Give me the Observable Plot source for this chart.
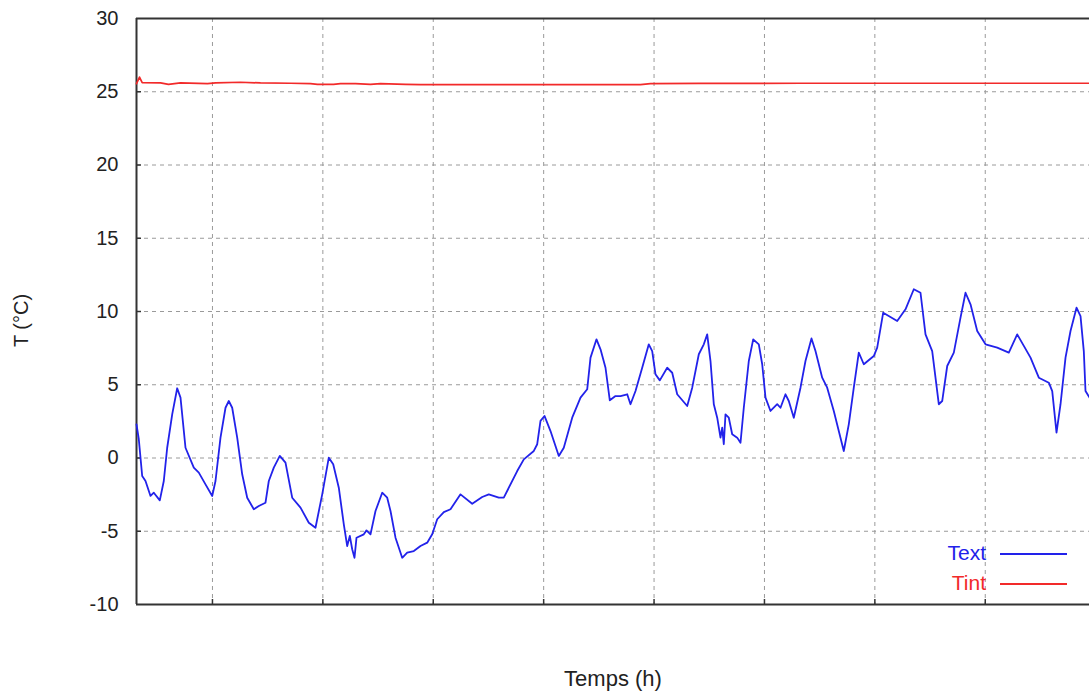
<!DOCTYPE html>
<html><head><meta charset="utf-8">
<script src="https://cdn.jsdelivr.net/npm/d3@7"></script>
<script src="https://cdn.jsdelivr.net/npm/@observablehq/plot@0.6"></script>
<style>
body{margin:0;background:#fff;}
#wrap{position:relative;width:1089px;height:693px;font-family:"Liberation Sans",Arial,sans-serif;}
#legend{position:absolute;right:22px;top:538px;display:grid;grid-template-columns:auto 67px;column-gap:14px;font-size:21px;}
#legend div{height:30px;line-height:30px;text-align:right;}
#legend .ln{height:0;margin-top:15px;border-top:2px solid;}
</style></head><body><div id="wrap"></div>
<script>
// Outside temperature (Text), hours from start of record
const textHours = [0,1.04,2.58,4.08,6.34,7.84,10.55,12.36,13.90,16.17,18.43,19.93,22.19,25.95,28.22,31.25,34.29,35.78,38.04,40.31,41.80,43.34,45.61,47.87,50.14,53.13,55.39,58.42,59.92,62.18,64.90,67.48,70.52,74.28,78.04,81.07,84.11,87.09,89.09,91.62,93.89,95.43,96.61,97.69,98.73,99.64,102.94,104.17,105.98,108.24,111.28,113.54,115.04,117.30,120.33,122.60,125.59,128.62,131.66,133.92,136.19,139.18,142.21,146.74,152.04,156.57,159.56,164.09,166.35,172.42,175.41,179.94,181.48,182.97,184.78,187.50,191.26,193.52,197.33,201.09,204.12,205.62,208.33,210.15,212.41,214.36,216.94,219.20,222.24,223.73,226.00,229.03,232.02,233.56,235.05,237.00,240.35,242.62,244.88,249.41,251.68,254.67,256.93,258.47,259.96,261.46,263.00,264.49,265.26,265.98,266.75,268.25,269.79,272.05,273.55,275.04,277.31,279.30,281.84,283.38,284.87,287.13,290.17,291.66,293.93,295.42,297.69,300.72,302.98,305.70,307.51,310.55,312.81,315.80,318.06,320.33,322.59,324.86,327.12,329.39,333.92,335.46,338.18,344.52,348.28,352.04,355.07,357.34,360.37,363.36,364.90,367.17,370.16,373.19,375.46,377.72,380.76,384.52,389.82,395.07,398.87,401.86,404.90,408.66,413.19,414.73,416.67,418.49,420.75,423.01,425.73,427.54,429.03,429.80,431.61];
const textTemps = [2.30,1.28,-1.23,-1.57,-2.59,-2.37,-2.89,-1.57,0.70,2.98,4.76,4.12,0.70,-0.66,-1.00,-1.80,-2.59,-1.57,1.39,3.43,3.89,3.43,1.39,-1.11,-2.71,-3.50,-3.28,-3.05,-1.57,-0.66,0.14,-0.32,-2.71,-3.39,-4.42,-4.76,-2.48,0.02,-0.43,-2.03,-4.53,-6.01,-5.32,-6.23,-6.81,-5.44,-5.21,-4.94,-5.21,-3.62,-2.37,-2.71,-3.62,-5.44,-6.81,-6.46,-6.35,-6.01,-5.78,-5.21,-4.18,-3.69,-3.50,-2.48,-3.12,-2.66,-2.48,-2.71,-2.71,-0.89,-0.09,0.48,0.94,2.53,2.87,1.84,0.14,0.70,2.75,4.12,4.69,6.85,8.10,7.42,6.16,3.94,4.23,4.23,4.35,3.67,4.57,6.16,7.76,7.30,5.71,5.30,6.16,5.82,4.35,3.55,4.80,7.08,7.76,8.44,6.62,3.67,2.75,1.39,2.07,0.94,2.98,2.75,1.62,1.39,1.04,3.43,6.62,8.10,7.76,6.40,4.12,3.21,3.67,3.43,4.35,3.89,2.75,4.80,6.62,8.16,7.30,5.48,4.80,3.21,1.84,0.48,2.30,4.80,7.19,6.40,6.96,7.53,9.92,9.35,10.15,11.52,11.28,8.44,7.30,3.67,3.89,6.28,7.19,9.58,11.28,10.49,8.67,7.76,7.53,7.19,8.44,7.65,6.85,5.48,5.14,4.57,1.73,3.67,6.85,8.67,10.26,9.69,7.30,4.57,4.12];
// Inside temperature (Tint)
const tintHours = [0,1.36,2.58,10.87,14.49,19.93,32.16,35.78,47.10,56.16,69.75,78.80,81.97,89.22,92.39,99.18,105.98,110.51,121.83,128.62,164.86,210.15,228.26,232.79,255.44,282.61,300.72,346.02,391.31,431.61];
const tintTemps = [25.55,26.0,25.62,25.6,25.5,25.6,25.55,25.6,25.65,25.6,25.58,25.55,25.5,25.5,25.55,25.55,25.5,25.55,25.5,25.48,25.48,25.48,25.48,25.55,25.57,25.57,25.58,25.58,25.58,25.58];

const yTicks = [-10,-5,0,5,10,15,20,25,30];
const hourTicks = [34.4,84.4,134.4,184.4,234.4,284.4,334.4,384.4];
const hourDomain = [0, 431.61];
const seriesNames = ["Text","Tint"];
const seriesColors = ["#2222ea","#f22a2a"];

const textData = textHours.map((h,i)=>({h, t:textTemps[i]}));
const tintData = tintHours.map((h,i)=>({h, t:tintTemps[i]}));
const innerY = yTicks.slice(1,-1);

const chart = Plot.plot({
  width: 1089, height: 693,
  marginLeft: 136, marginTop: 18, marginBottom: 89, marginRight: 0,
  style: {fontFamily: "'Liberation Sans', Arial, sans-serif", fontSize: "20px", color: "#222", background: "#fff"},
  x: {domain: hourDomain, axis: null},
  y: {domain: [-10, 30], ticks: yTicks, tickSize: 0, tickPadding: 18, label: null, tickFormat: d => String(d)},
  marks: [
    Plot.gridY(innerY, {stroke: "#9a9a9a", strokeOpacity: 1, strokeDasharray: "4,4", strokeWidth: 1}),
    Plot.gridX(hourTicks, {stroke: "#9a9a9a", strokeOpacity: 1, strokeDasharray: "4,4", strokeWidth: 1}),
    Plot.tickY(innerY, {y: d => d, insetRight: 948, stroke: "#333", strokeWidth: 1.5}),
    Plot.tickX(hourTicks, {x: d => d, insetTop: 581, stroke: "#333", strokeWidth: 1.5}),
    Plot.ruleX([hourDomain[0]], {stroke: "#333", strokeWidth: 2}),
    Plot.ruleY([-10, 30], {stroke: "#333", strokeWidth: 2}),
    Plot.line(tintData, {x: "h", y: "t", stroke: seriesColors[1], strokeWidth: 1.7}),
    Plot.line(textData, {x: "h", y: "t", stroke: seriesColors[0], strokeWidth: 1.8}),
    Plot.text(["Temps (h)"], {frameAnchor: "bottom", dy: 74, lineAnchor: "middle", textAnchor: "middle", fontSize: 22, fill: "#222"}),
    Plot.text(["T (°C)"], {frameAnchor: "left", dx: -115, dy: 9, rotate: -90, textAnchor: "middle", lineAnchor: "middle", fontSize: 20, fill: "#222"})
  ]
});
const wrap = document.getElementById("wrap");
wrap.appendChild(chart);
const leg = document.createElement("div");
leg.id = "legend";
seriesNames.forEach((n,i)=>{
  const t = document.createElement("div"); t.textContent = n; t.style.color = seriesColors[i];
  const l = document.createElement("div"); l.className = "ln"; l.style.borderTopColor = seriesColors[i];
  leg.appendChild(t); leg.appendChild(l);
});
wrap.appendChild(leg);
</script></body></html>
